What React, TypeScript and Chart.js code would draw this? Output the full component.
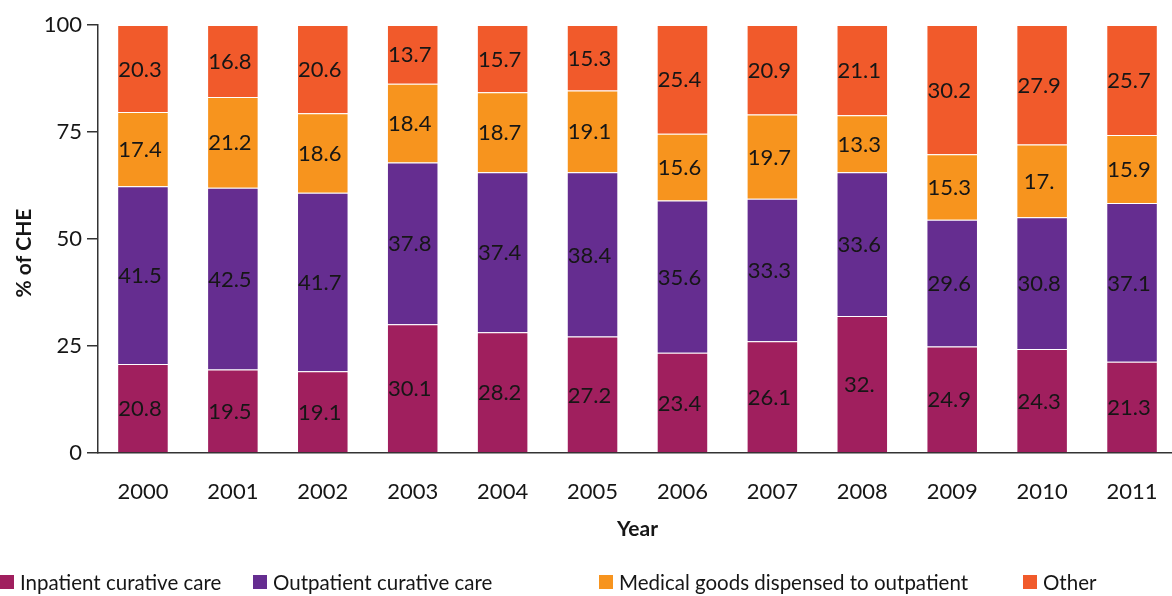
import React, { useEffect, useRef } from "react";
import { Chart, registerables } from "chart.js";

Chart.register(...registerables);

const years = ["2000", "2001", "2002", "2003", "2004", "2005", "2006", "2007", "2008", "2009", "2010", "2011"];
const inpatient = [20.8, 19.5, 19.1, 30.1, 28.2, 27.2, 23.4, 26.1, 32, 24.9, 24.3, 21.3];
const outpatient = [41.5, 42.5, 41.7, 37.8, 37.4, 38.4, 35.6, 33.3, 33.6, 29.6, 30.8, 37.1];
const medicalGoods = [17.4, 21.2, 18.6, 18.4, 18.7, 19.1, 15.6, 19.7, 13.3, 15.3, 17, 15.9];
const other = [20.3, 16.8, 20.6, 13.7, 15.7, 15.3, 25.4, 20.9, 21.1, 30.2, 27.9, 25.7];
const seriesNames = ["Inpatient curative care", "Outpatient curative care", "Medical goods dispensed to outpatient", "Other"];
const seriesColors = ["#A01F5E", "#652D90", "#F7941E", "#F15A2B"];
const yTickValues = [0, 25, 50, 75, 100];
const yTitle = "% of CHE";
const xTitle = "Year";

const FONT = "Lato, 'Open Sans', sans-serif";
const TEXT = "#161616";

const fmt = (v: number) => (Number.isInteger(v) ? `${v}.` : `${v}`);

export default function App() {
  const ref = useRef<HTMLCanvasElement>(null);
  useEffect(() => {
    document.body.style.margin = "0";
    const canvas = ref.current!;
    const valueLabels = {
      id: "valueLabels",
      afterDatasetsDraw(chart: any) {
        const ctx = chart.ctx;
        ctx.save();
        ctx.font = `22px ${FONT}`;
        ctx.fillStyle = TEXT;
        ctx.textAlign = "center";
        ctx.textBaseline = "middle";
        chart.data.datasets.forEach((ds: any, di: number) => {
          const meta = chart.getDatasetMeta(di);
          meta.data.forEach((el: any, i: number) => {
            const v = ds.data[i];
            ctx.fillText(fmt(v), el.x - 3, (el.y + el.base) / 2 + 1);
          });
        });
        ctx.restore();
      },
    };
    const extras = {
      id: "extras",
      afterDraw(chart: any) {
        const ctx = chart.ctx;
        const area = chart.chartArea;
        ctx.save();
        ctx.fillStyle = TEXT;
        ctx.font = `bold 21px ${FONT}`;
        ctx.textAlign = "center";
        ctx.textBaseline = "middle";
        ctx.save();
        ctx.translate(24, 253);
        ctx.rotate(-Math.PI / 2);
        ctx.fillText(yTitle, 0, 0);
        ctx.restore();
        ctx.fillText(xTitle, (area.left + area.right) / 2, 529);
        const starts = [0, 253, 599, 1023];
        ctx.font = `20.5px ${FONT}`;
        ctx.textAlign = "left";
        seriesNames.forEach((name, i) => {
          ctx.fillStyle = seriesColors[i];
          ctx.fillRect(starts[i], 575, 14, 14);
          ctx.fillStyle = TEXT;
          ctx.fillText(name, starts[i] + 20, 583);
        });
        ctx.restore();
      },
    };
    const series = [inpatient, outpatient, medicalGoods, other];
    const chart = new Chart(canvas, {
      type: "bar",
      data: {
        labels: years,
        datasets: series.map((d, i) => ({
          label: seriesNames[i],
          data: d,
          backgroundColor: seriesColors[i],
          borderColor: "rgba(255,255,255,0.35)",
          borderWidth: 1,
          categoryPercentage: 1,
          barPercentage: 0.573,
        })),
      },
      options: {
        responsive: false,
        animation: false,
        layout: { padding: { top: 25, right: 1, left: 0, bottom: 0 } },
        plugins: { legend: { display: false }, tooltip: { enabled: false } },
        scales: {
          x: {
            stacked: true,
            grid: { display: false },
            border: { display: true, color: "#333", width: 1.5 },
            ticks: { color: TEXT, font: { family: FONT, size: 22 }, padding: 18, maxRotation: 0, autoSkip: false },
            afterFit(s: any) {
              s.height = 143;
            },
          },
          y: {
            stacked: true,
            min: 0,
            max: 100,
            afterBuildTicks(s: any) {
              s.ticks = yTickValues.map((v) => ({ value: v }));
            },
            grid: { drawOnChartArea: false, drawTicks: true, tickLength: 11, color: "#333", lineWidth: 1.5 },
            border: { display: true, color: "#333", width: 1.5 },
            ticks: { color: TEXT, font: { family: FONT, size: 22 }, padding: 5 },
            afterFit(s: any) {
              s.width = 98;
            },
          },
        },
      },
      plugins: [valueLabels, extras],
    });
    return () => chart.destroy();
  }, []);
  return (
    <div style={{ width: 1172, height: 596, overflow: "hidden", position: "relative" }}>
      <canvas ref={ref} width={1178} height={596} style={{ display: "block" }} />
    </div>
  );
}
